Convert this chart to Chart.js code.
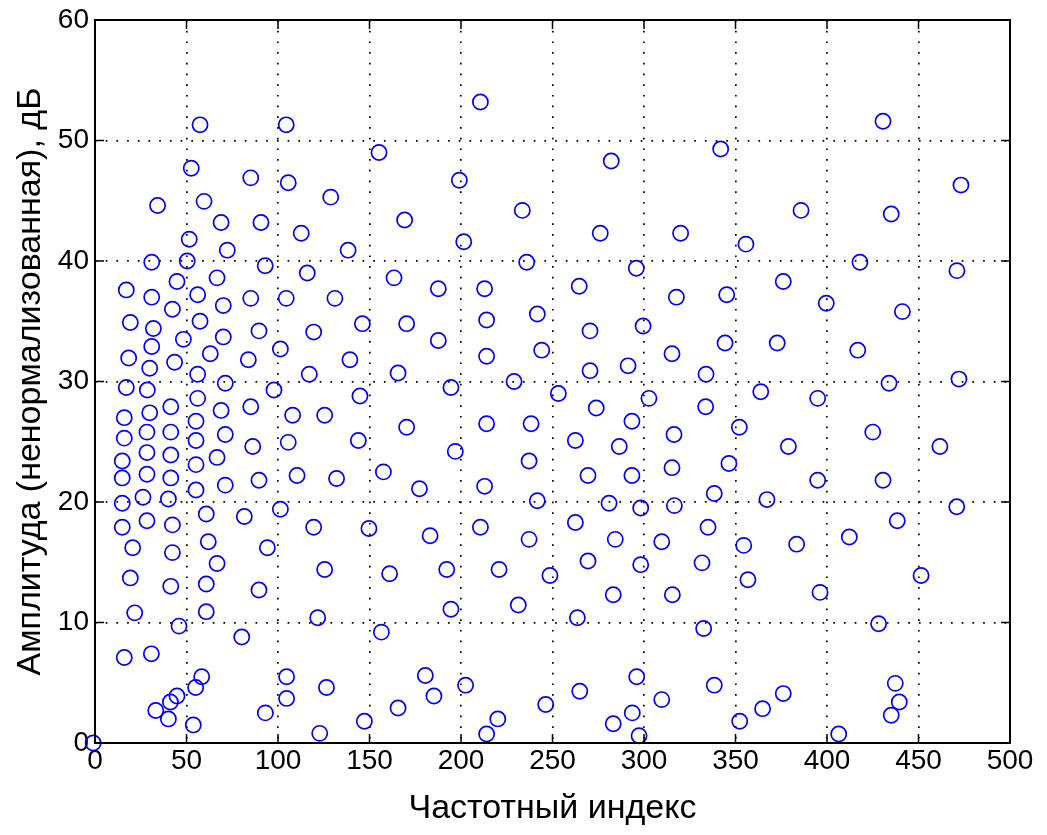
<!DOCTYPE html>
<html><head><meta charset="utf-8">
<script src="https://cdn.jsdelivr.net/npm/chart.js@4/dist/chart.umd.min.js"></script>
<style>html,body{margin:0;padding:0;background:#fff;}canvas{display:block;}</style>
</head><body>
<canvas id="c" width="1047" height="835"></canvas>
<script>
const freqIdx = [
57.4,104.5,52.6,85.1,105.6,128.8,34.2,59.6,68.9,90.7,112.7,51.5,72.3,31,50.4,93,116,66.7,44.8,17.1,
31,56.1,85.1,104.5,131.1,42.3,70.1,19.3,31.9,57.4,89.6,119.5,48.3,70.1,101.3,31,18.4,63,83.8,43.5,
29.9,56.1,117.1,17.1,28.6,71.2,97.8,56.1,41.4,29.9,68.9,85.1,108,125.5,16,55.2,28.4,41.4,71.2,16,
55.2,86.2,105.6,28.4,41.4,14.9,55.2,66.7,28.4,41.4,14.9,71.2,89.6,110.4,132,55.2,14.9,26.2,40.1,101.3,
60.8,81.6,119.5,14.9,28.4,42.3,20.6,42.3,61.9,66.7,94.2,125.5,19.3,41.4,60.8,89.6,21.7,60.8,121.7,45.9,
80.2,16,30.8,58.3,55,104.7,126.5,44.8,41.2,104.7,33.2,40.1,93.1,53.7,122.8,-1,
210.6,155.2,199.1,169.2,233.5,138.3,201.5,235.9,163.4,187.6,212.9,146.1,170.3,214,241.7,187.6,214,244.1,139.3,165.6,
194.5,229,253.2,144.8,170.3,214,238.3,143.9,196.9,237.2,157.6,177.3,212.9,241.7,149.7,183.1,210.6,237.2,161,192.2,
220.8,248.6,194.5,231.3,156.5,180.5,185.2,202.5,165.6,147.2,246.3,220.1,214,
341.9,282.1,276.1,320,355.7,295.8,264.6,317.7,345.2,376.1,270.5,299.5,315.3,344.3,372.8,270.5,291.3,333.9,302.7,363.8,
273.9,333.7,293.4,352.1,262.5,316.4,286.5,378.9,346.4,269.4,293.4,315.3,338.4,367.2,280.9,298.2,316.6,262.5,335,284.3,
309.7,354.5,383.4,269.4,298.2,331.7,356.8,283.2,315.5,263.6,332.6,296,264.9,338.4,309.7,293.6,283.2,297.3,352.3,364.8,376.1,
430.6,473.2,385.8,435.1,418,471,399.6,441.2,416.8,433.9,472.1,394.9,425,461.7,394.9,430.6,470.9,438.4,412.2,396.2,
451.4,428.2,437.3,439.5,435.1,406.4
];
const amplitudeDb = [
51.3,51.3,47.7,46.9,46.5,45.3,44.6,44.95,43.2,43.2,42.3,41.8,40.9,39.9,40.0,39.6,39.0,38.6,38.3,37.6,
37.0,37.2,36.9,36.9,36.9,36.0,36.3,34.9,34.4,35.0,34.2,34.1,33.5,33.7,32.7,32.9,31.95,32.3,31.8,31.6,
31.1,30.6,30.6,29.5,29.3,29.85,29.3,28.6,27.9,27.4,27.6,27.9,27.2,27.2,27.0,26.7,25.8,25.8,25.6,25.3,
25.1,24.6,24.95,24.1,23.9,23.4,23.1,23.7,22.3,22.0,22.0,21.4,21.8,22.2,21.95,21.0,19.9,20.4,20.25,19.4,
19.0,18.8,17.9,17.9,18.45,18.1,16.2,15.8,16.7,14.9,16.2,14.4,13.7,13.0,13.2,12.7,10.8,10.9,10.4,9.7,
8.8,7.1,7.4,5.5,4.6,5.5,4.6,3.9,3.4,3.7,2.7,2.0,2.5,1.5,0.8,0,
53.2,49.0,46.7,43.4,44.2,40.9,41.6,39.9,38.6,37.7,37.7,34.8,34.8,35.1,35.6,33.4,32.1,32.6,31.8,30.7,
29.5,30.0,29.0,28.8,26.2,26.5,26.5,25.1,24.2,23.4,22.5,21.1,21.3,20.1,17.8,17.2,17.9,16.9,14.05,14.4,
14.4,13.9,11.1,11.45,9.2,5.6,3.9,4.8,2.9,1.8,3.2,2.0,0.75,
49.3,48.3,42.3,42.3,41.4,39.4,37.9,37.0,37.2,38.3,34.2,34.6,32.3,33.2,33.2,30.9,31.3,30.6,28.6,29.15,
27.8,27.9,26.7,26.2,25.1,25.6,24.6,24.6,23.2,22.2,22.2,22.85,20.7,20.2,19.9,19.5,19.7,18.3,17.9,16.9,
16.7,16.4,16.5,15.1,14.8,14.95,13.55,12.3,12.3,10.4,9.5,5.5,4.3,4.8,3.6,2.5,1.6,0.6,1.8,2.85,4.1,
51.6,46.3,44.2,43.9,39.9,39.2,36.5,35.8,32.6,29.85,30.2,28.6,25.8,24.6,21.8,21.8,19.6,18.45,17.1,12.5,
13.9,9.9,4.95,3.4,2.3,0.75
];
const xTickValues = [0,50,100,150,200,250,300,350,400,450,500];
const yTickValues = [0,10,20,30,40,50,60];
const xTitle = 'Частотный индекс';
const yTitle = 'Амплитуда (ненормализованная), дБ';

const FONT = '"Liberation Sans", Arial, sans-serif';

const boxPlugin = {
  id: 'box',
  afterDatasetsDraw(chart) {
    const {ctx, chartArea: a, scales} = chart;
    ctx.save();
    ctx.strokeStyle = '#000';
    ctx.lineWidth = 2;
    ctx.strokeRect(a.left, a.top, a.right - a.left, a.bottom - a.top);
    ctx.lineWidth = 1.5;
    const L = 9;
    ctx.beginPath();
    xTickValues.forEach(v => {
      const px = scales.x.getPixelForValue(v);
      ctx.moveTo(px, a.bottom); ctx.lineTo(px, a.bottom - L);
      ctx.moveTo(px, a.top); ctx.lineTo(px, a.top + L);
    });
    yTickValues.forEach(v => {
      const py = scales.y.getPixelForValue(v);
      ctx.moveTo(a.left, py); ctx.lineTo(a.left + L, py);
      ctx.moveTo(a.right, py); ctx.lineTo(a.right - L, py);
    });
    ctx.stroke();
    ctx.restore();
  }
};

new Chart(document.getElementById('c'), {
  type: 'scatter',
  data: {
    datasets: [{
      data: freqIdx.map((x, i) => ({x: x, y: amplitudeDb[i]})),
      borderColor: '#0000ff',
      backgroundColor: 'rgba(0,0,0,0)',
      pointRadius: 7.6,
      pointBorderWidth: 1.7,
      pointHoverRadius: 7.6,
      clip: false
    }]
  },
  options: {
    responsive: false,
    animation: false,
    events: [],
    layout: {padding: {left: 0, right: 37, top: 20, bottom: 0}},
    plugins: {legend: {display: false}, tooltip: {enabled: false}},
    scales: {
      x: {
        type: 'linear', min: 0, max: 500,
        afterBuildTicks: s => { s.ticks = xTickValues.map(v => ({value: v})); },
        afterFit: s => { s.height = 92; s.paddingLeft = 0; s.paddingRight = 0; },
        grid: {color: '#000', lineWidth: 1.7, drawTicks: false},
        border: {display: false, dash: [1.7, 9]},
        ticks: {color: '#000', padding: 1, font: {family: FONT, size: 28}, maxRotation: 0},
        title: {display: true, text: xTitle, color: '#000', font: {family: FONT, size: 34}, padding: {top: 0, bottom: 6}}
      },
      y: {
        type: 'linear', min: 0, max: 60,
        afterBuildTicks: s => { s.ticks = yTickValues.map(v => ({value: v})); },
        afterFit: s => { s.width = 95; s.paddingTop = 0; s.paddingBottom = 0; },
        grid: {color: '#000', lineWidth: 1.7, drawTicks: false},
        border: {display: false, dash: [1.7, 9]},
        ticks: {color: '#000', padding: 6, font: {family: FONT, size: 28}},
        title: {display: true, text: yTitle, color: '#000', font: {family: FONT, size: 34}, padding: {top: 10, bottom: 0}}
      }
    }
  },
  plugins: [boxPlugin]
});
</script>
</body></html>
